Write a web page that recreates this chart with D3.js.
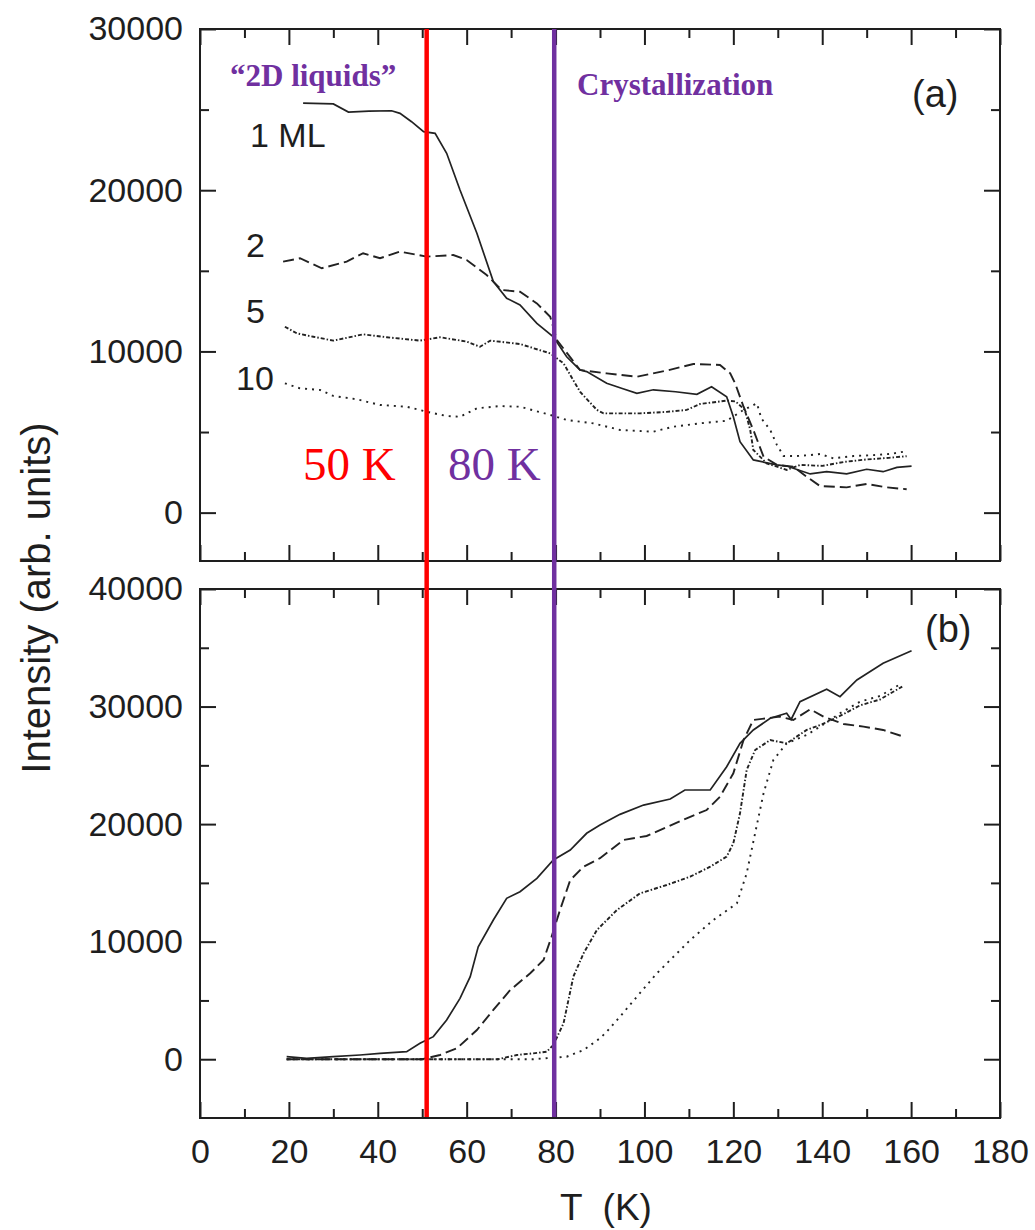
<!DOCTYPE html>
<html>
<head>
<meta charset="utf-8">
<script src="https://cdn.jsdelivr.net/npm/d3@7"></script>
<style>
    body { margin: 0; background: #fff; }
    svg { display: block; }
    .axis path { display: none; }
    .axis line { stroke: #1e1e1e; stroke-width: 2; }
    .axis text { font-family: "Liberation Sans", Arial, sans-serif; font-size: 34px; fill: #1e1e1e; }
    .lbl { font-family: "Liberation Sans", Arial, sans-serif; fill: #1e1e1e; }
    .note { font-family: "Liberation Serif", "Times New Roman", serif; }
</style>
</head>
<body>
<div id="chart"></div>
<script>
// T (K) values on the x axis
const xMajorTicks = [0, 20, 40, 60, 80, 100, 120, 140, 160, 180];
const xMinorTicks = [10, 30, 50, 70, 90, 110, 130, 150, 170];
const yMajorTicksA = [0, 10000, 20000, 30000];
const yMinorTicksA = [5000, 15000, 25000];
const yMajorTicksB = [0, 10000, 20000, 30000, 40000];
const yMinorTicksB = [5000, 15000, 25000, 35000];

// marker temperatures (red / purple lines)
const markerTemps = [51, 79.7];

// panel (a): [T, intensity]
const a1ML = [[23.2,25400],[30,25350],[33.4,24850],[38,24900],[43.1,24930],[45,24770],[47.6,24250],[50.3,23630],[52.9,23530],[55.5,22290],[58.5,20010],[62.3,17330],[66,14330],[69,13300],[72,12880],[75.8,11740],[79.5,10910],[82.5,9670],[85.5,8850],[87,8750],[91.5,8020],[95,7700],[98.3,7400],[102,7620],[107,7500],[111.8,7340],[115.1,7810],[118.5,7190],[120,5950],[121.5,4400],[124.5,3270],[129.8,2960],[132,2890],[137.3,2400],[141,2540],[145.5,2400],[150,2690],[153.7,2540],[156.8,2810],[160.1,2890]];
const a2ML = [[18.7,15570],[22.5,15780],[27.4,15160],[33,15570],[36.7,16090],[40.5,15780],[45,16190],[51,15880],[57,15980],[60,15670],[64.5,14740],[67.9,13810],[72,13700],[75.8,12980],[78.8,12150],[80.3,10710],[85.5,8850],[91.5,8640],[98.3,8430],[105,8810],[111,9220],[117,9160],[119.3,8640],[120.4,8020],[122.3,6570],[124.5,5130],[126.8,3470],[129.8,2960],[133.5,2850],[136.5,2230],[139.5,1650],[145.5,1570],[150,1780],[154.5,1570],[159,1450]];
const a5ML = [[19.1,11530],[21.8,11120],[25.5,10910],[30,10670],[36.7,11060],[42,10880],[49.5,10670],[54,10880],[60,10610],[63,10290],[65.3,10670],[72,10460],[78.8,9880],[81.8,9260],[85.5,7500],[89.3,6370],[90.8,6160],[99,6160],[105,6250],[109.5,6370],[112.5,6740],[118.5,6950],[120.5,6900],[122.6,6370],[123.8,5130],[124.5,3890],[127.5,3060],[132,2650],[135,2960],[140,2900],[145,3150],[150,3300],[155,3400],[159,3500]];
const a10ML = [[19.1,8020],[22.5,7710],[27,7610],[30,7240],[35.3,7030],[40.5,6680],[46.5,6570],[51,6260],[55.5,5990],[58.5,5950],[62.3,6470],[67.5,6610],[72,6570],[78.8,6060],[82.5,5750],[88.5,5540],[94.5,5130],[102,5020],[106.5,5330],[112.5,5540],[118.5,5700],[122.3,6370],[125.3,6780],[126.3,5850],[128.3,5130],[129.8,4200],[131.3,3510],[134.3,3510],[137.3,3570],[139.5,3640],[142.5,3370],[147,3510],[151.5,3570],[155.3,3640],[158.3,3780]];

// panel (b): [T, intensity]
const b1ML = [[19.5,215],[24,80],[30,215],[36,360],[40.5,500],[46.5,640],[49.5,1350],[52.5,1920],[55.5,3340],[58.5,5180],[60.8,7020],[62.6,9570],[66,11840],[69,13690],[72,14250],[75.8,15390],[79.5,16950],[83.3,17800],[87,19220],[90,19920],[94.5,20830],[99.8,21620],[105.8,22130],[109.1,22900],[114.8,22900],[118.5,24880],[121.5,26870],[124.5,28010],[128.3,29000],[132,29430],[133,28900],[135,30410],[141,31470],[144,30840],[147.8,32260],[153.7,33680],[160.1,34750]];
const b2ML = [[19.5,0],[30,0],[40,0],[50,0],[54,360],[57.8,930],[62.3,2480],[66,4190],[69.8,5890],[74.3,7310],[77.3,8440],[79.1,10420],[81,12690],[83.3,15240],[86.3,16380],[90,17100],[95.3,18650],[100.5,18990],[105,19730],[109.5,20490],[114,21200],[117,22330],[120,24320],[122.3,27150],[124.5,28860],[127.5,29000],[130.5,29140],[133.5,28860],[137.3,29770],[140.3,29140],[144.8,28520],[149.3,28290],[153.7,28010],[158.3,27440]];
const b5ML = [[19.5,0],[40,0],[60,0],[67,0],[71.3,360],[75,500],[78,640],[79.5,1210],[81.8,3060],[82.9,5040],[84,7020],[86.3,9010],[89.3,10990],[93.8,12690],[99,14110],[105,14820],[110.3,15530],[114.8,16380],[118.5,17230],[120,18370],[121.5,20920],[123,24600],[124.9,26300],[128.3,27150],[132,26870],[136.5,28010],[140,28500],[144,29200],[148.5,30100],[153,30600],[158,31700]];
const b10ML = [[19.5,0],[40,0],[60,0],[75,0],[82.5,215],[86.3,780],[90,1780],[91.5,2340],[94.5,3620],[98.3,5320],[102.8,7310],[105.8,8440],[110.3,10140],[115.5,11840],[120.8,13260],[123,15810],[124.9,19220],[126.8,22620],[129,25450],[132,26870],[136.5,27580],[139.5,28290],[144,29430],[148.5,30410],[153,30900],[157.9,31980]];

const WIDTH = 1035;
const HEIGHT = 1230;
const PLOT_LEFT = 200;
const PLOT_RIGHT = 1000;
const MAJOR = 16;
const MINOR = 9;

const DASH = {
    solid: null,
    dashed: '11,5',
    dashdot: '4,2,1.5,2',
    dotted: '2,5'
};

const svg = d3.select('#chart').append('svg')
    .attr('width', WIDTH)
    .attr('height', HEIGHT);

const x = d3.scaleLinear().domain([0, 180]).range([PLOT_LEFT, PLOT_RIGHT]);

const panels = [
    {
        top: 29, bottom: 561, domain: [-3000, 30000],
        majors: yMajorTicksA, minors: yMinorTicksA, xLabels: false,
        series: [[a1ML, 'solid'], [a2ML, 'dashed'], [a5ML, 'dashdot'], [a10ML, 'dotted']]
    },
    {
        top: 589, bottom: 1118, domain: [-5000, 40000],
        majors: yMajorTicksB, minors: yMinorTicksB, xLabels: true,
        series: [[b1ML, 'solid'], [b2ML, 'dashed'], [b5ML, 'dashdot'], [b10ML, 'dotted']]
    }
];

const noLabel = () => '';

panels.forEach(p => {
    const y = d3.scaleLinear().domain(p.domain).range([p.bottom, p.top]);
    const g = svg.append('g');

    // left
    g.append('g').attr('class', 'axis')
        .attr('transform', `translate(${PLOT_LEFT},0)`)
        .call(d3.axisLeft(y).tickValues(p.majors).tickSizeInner(-MAJOR).tickSizeOuter(0)
            .tickPadding(17).tickFormat(d3.format('d')));
    g.append('g').attr('class', 'axis')
        .attr('transform', `translate(${PLOT_LEFT},0)`)
        .call(d3.axisLeft(y).tickValues(p.minors).tickSizeInner(-MINOR).tickSizeOuter(0).tickFormat(noLabel));

    // right
    g.append('g').attr('class', 'axis')
        .attr('transform', `translate(${PLOT_RIGHT},0)`)
        .call(d3.axisRight(y).tickValues(p.majors).tickSizeInner(-MAJOR).tickSizeOuter(0).tickFormat(noLabel));
    g.append('g').attr('class', 'axis')
        .attr('transform', `translate(${PLOT_RIGHT},0)`)
        .call(d3.axisRight(y).tickValues(p.minors).tickSizeInner(-MINOR).tickSizeOuter(0).tickFormat(noLabel));

    // top
    g.append('g').attr('class', 'axis')
        .attr('transform', `translate(0,${p.top})`)
        .call(d3.axisTop(x).tickValues(xMajorTicks).tickSizeInner(-MAJOR).tickSizeOuter(0).tickFormat(noLabel));
    g.append('g').attr('class', 'axis')
        .attr('transform', `translate(0,${p.top})`)
        .call(d3.axisTop(x).tickValues(xMinorTicks).tickSizeInner(-MINOR).tickSizeOuter(0).tickFormat(noLabel));

    // bottom
    g.append('g').attr('class', 'axis')
        .attr('transform', `translate(0,${p.bottom})`)
        .call(d3.axisBottom(x).tickValues(xMajorTicks).tickSizeInner(-MAJOR).tickSizeOuter(0)
            .tickPadding(21).tickFormat(p.xLabels ? d3.format('d') : noLabel));
    g.append('g').attr('class', 'axis')
        .attr('transform', `translate(0,${p.bottom})`)
        .call(d3.axisBottom(x).tickValues(xMinorTicks).tickSizeInner(-MINOR).tickSizeOuter(0).tickFormat(noLabel));

    // frame
    g.append('rect')
        .attr('x', PLOT_LEFT).attr('y', p.top)
        .attr('width', PLOT_RIGHT - PLOT_LEFT).attr('height', p.bottom - p.top)
        .attr('fill', 'none').attr('stroke', '#1e1e1e').attr('stroke-width', 2);

    const line = d3.line().x(d => x(d[0])).y(d => y(d[1]));
    p.series.forEach(([data, style]) => {
        g.append('path')
            .attr('d', line(data))
            .attr('fill', 'none')
            .attr('stroke', '#222')
            .attr('stroke-width', style === 'solid' ? 1.7 : 1.9)
            .attr('stroke-dasharray', DASH[style]);
    });
});

// curve labels
const curveLabels = [
    { text: '1 ML', x: 250, y: 147 },
    { text: '2', x: 246, y: 257 },
    { text: '5', x: 246, y: 323 },
    { text: '10', x: 236, y: 390 },
    { text: '(a)', x: 912, y: 107 },
    { text: '(b)', x: 925, y: 642 }
];
curveLabels.forEach(l => {
    svg.append('text').attr('class', 'lbl')
        .attr('x', l.x).attr('y', l.y)
        .attr('font-size', l.text.startsWith('(') ? 38 : 34)
        .text(l.text);
});

// marker lines
const markerColors = ['#ff0000', '#7030a0'];
markerTemps.forEach((t, i) => {
    svg.append('line')
        .attr('x1', x(t)).attr('x2', x(t))
        .attr('y1', 29).attr('y2', 1117)
        .attr('stroke', markerColors[i])
        .attr('stroke-width', 4.5);
});

// notes
svg.append('text').attr('class', 'note')
    .attr('x', 230).attr('y', 86)
    .attr('font-size', 31).attr('font-weight', 'bold').attr('fill', '#7030a0')
    .text('\u201c2D liquids\u201d');
svg.append('text').attr('class', 'note')
    .attr('x', 577).attr('y', 95)
    .attr('font-size', 31).attr('font-weight', 'bold').attr('fill', '#7030a0')
    .text('Crystallization');
svg.append('text').attr('class', 'note')
    .attr('x', 303).attr('y', 480)
    .attr('font-size', 47).attr('fill', '#ff0000')
    .text('50 K');
svg.append('text').attr('class', 'note')
    .attr('x', 448).attr('y', 480)
    .attr('font-size', 47).attr('fill', '#7030a0')
    .text('80 K');

// axis titles
svg.append('text').attr('class', 'lbl')
    .attr('x', 606).attr('y', 1220)
    .attr('text-anchor', 'middle')
    .attr('font-size', 37)
    .style('white-space', 'pre')
    .text('T  (K)');
svg.append('text').attr('class', 'lbl')
    .attr('transform', 'translate(50,598) rotate(-90)')
    .attr('text-anchor', 'middle')
    .attr('font-size', 40)
    .text('Intensity (arb. units)');
</script>
</body>
</html>
